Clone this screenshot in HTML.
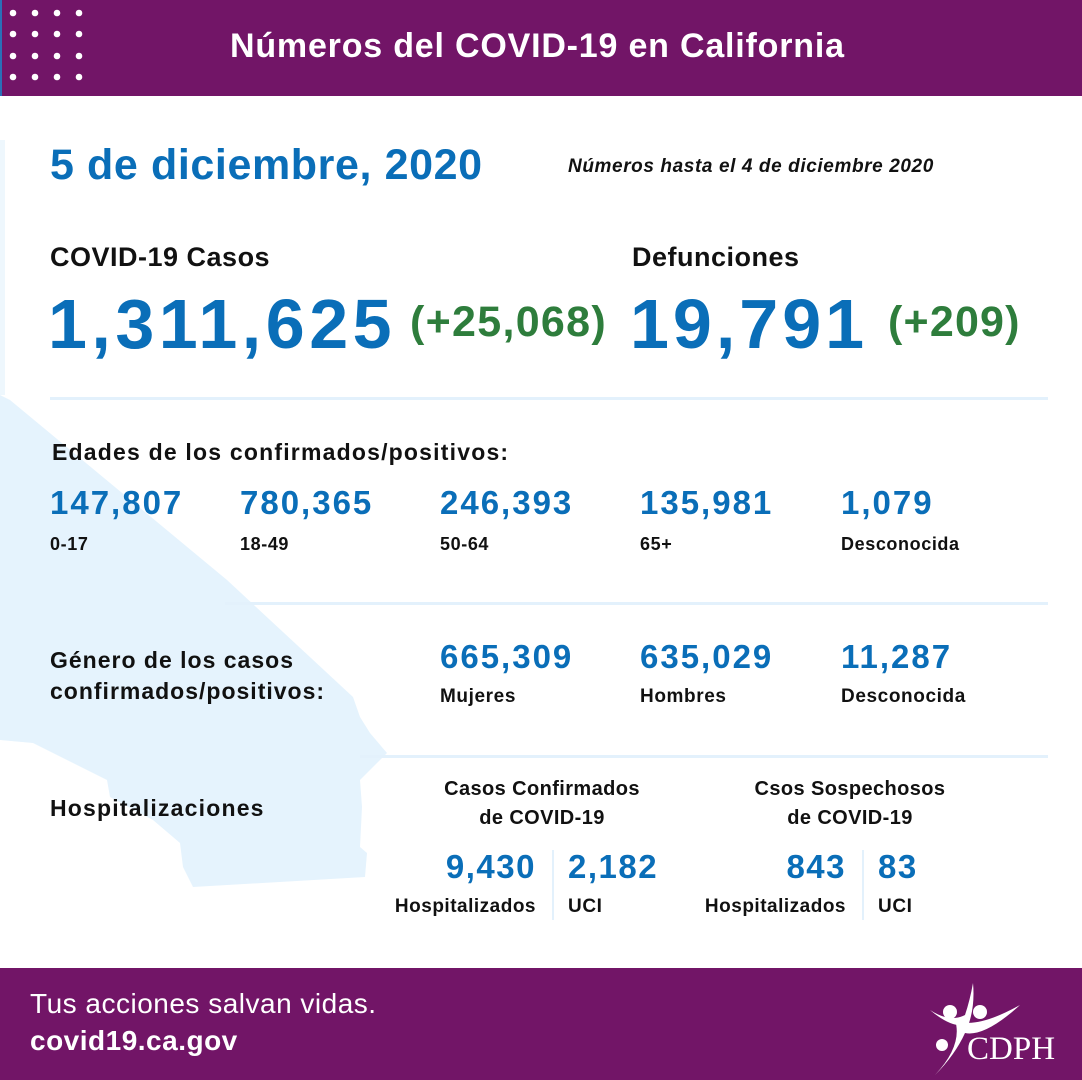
<!DOCTYPE html>
<html><head><meta charset="utf-8"><style>
*{margin:0;padding:0;box-sizing:border-box}
body{width:1082px;height:1080px;position:relative;background:#fff;font-family:"Liberation Sans",sans-serif;overflow:hidden;color:#111}
.a{position:absolute;white-space:nowrap}
.b{color:#0a6eb8;font-weight:bold}
.g{color:#2e7d3c;font-weight:bold}
.k{font-weight:bold;color:#111}
.s{font-size:33px;letter-spacing:2px}
.l{font-size:18px;font-weight:bold;letter-spacing:0.6px}
.hr{position:absolute;left:50px;width:998px;height:3px;background:#e3f1fc}
</style></head><body>
<svg class="a" style="left:0;top:0" width="1082" height="1080">
<polygon fill="#e5f3fd" points="0,395 10,400 227,580 353,697 360,717 370,733 387,753 360,780 362,807 360,847 367,853 365,877 193,887 183,867 180,843 153,820 110,797 107,780 33,743 0,740"/>
<rect x="0" y="140" width="5" height="255" fill="#eef7fd"/>
</svg>
<div class="a" style="left:0;top:0;width:1082px;height:96px;background:#721567"></div>
<div class="a" style="left:0;top:0;width:2px;height:96px;background:#2a6fb8"></div>
<svg class="a" style="left:0;top:0" width="90" height="90" fill="#fff">
<g><circle cx="13" cy="13" r="3.3"/><circle cx="35" cy="13" r="3.3"/><circle cx="57" cy="13" r="3.3"/><circle cx="79" cy="13" r="3.3"/>
<circle cx="13" cy="34" r="3.3"/><circle cx="35" cy="34" r="3.3"/><circle cx="57" cy="34" r="3.3"/><circle cx="79" cy="34" r="3.3"/>
<circle cx="13" cy="56" r="3.3"/><circle cx="35" cy="56" r="3.3"/><circle cx="57" cy="56" r="3.3"/><circle cx="79" cy="56" r="3.3"/>
<circle cx="13" cy="77" r="3.3"/><circle cx="35" cy="77" r="3.3"/><circle cx="57" cy="77" r="3.3"/><circle cx="79" cy="77" r="3.3"/></g></svg>
<div class="a" style="left:230px;top:27px;color:#fff;font-weight:bold;font-size:34px;letter-spacing:0.8px">Números del COVID-19 en California</div>

<div class="a b" style="left:50px;top:141px;font-size:43px;letter-spacing:0.6px">5 de diciembre, 2020</div>
<div class="a k" style="left:568px;top:156px;font-size:19px;font-style:italic;letter-spacing:0.6px">Números hasta el 4 de diciembre 2020</div>

<div class="a k" style="left:50px;top:242px;font-size:27px;letter-spacing:0.5px">COVID-19 Casos</div>
<div class="a b" style="left:48px;top:284px;font-size:70px;letter-spacing:4.5px">1,311,625</div>
<div class="a g" style="left:410px;top:298px;font-size:43px;letter-spacing:1.3px">(+25,068)</div>
<div class="a k" style="left:632px;top:242px;font-size:27px;letter-spacing:0.5px">Defunciones</div>
<div class="a b" style="left:630px;top:284px;font-size:70px;letter-spacing:4px">19,791</div>
<div class="a g" style="left:888px;top:298px;font-size:43px;letter-spacing:1.2px">(+209)</div>

<div class="hr" style="top:397px"></div>
<div class="a k" style="left:52px;top:439px;font-size:23px;letter-spacing:1.2px">Edades de los confirmados/positivos:</div>
<div class="a b s" style="left:50px;top:484px">147,807</div><div class="a l" style="left:50px;top:534px">0-17</div>
<div class="a b s" style="left:240px;top:484px">780,365</div><div class="a l" style="left:240px;top:534px">18-49</div>
<div class="a b s" style="left:440px;top:484px">246,393</div><div class="a l" style="left:440px;top:534px">50-64</div>
<div class="a b s" style="left:640px;top:484px">135,981</div><div class="a l" style="left:640px;top:534px">65+</div>
<div class="a b s" style="left:841px;top:484px">1,079</div><div class="a l" style="left:841px;top:534px">Desconocida</div>

<div class="hr" style="top:602px;left:225px;width:823px"></div>
<div class="a k" style="left:50px;top:645px;font-size:23px;line-height:31px;letter-spacing:1px">Género de los casos<br>confirmados/positivos:</div>
<div class="a b s" style="left:440px;top:638px">665,309</div><div class="a l" style="left:440px;top:686px;font-size:19px">Mujeres</div>
<div class="a b s" style="left:640px;top:638px">635,029</div><div class="a l" style="left:640px;top:686px;font-size:19px">Hombres</div>
<div class="a b s" style="left:841px;top:638px">11,287</div><div class="a l" style="left:841px;top:686px;font-size:19px">Desconocida</div>

<div class="hr" style="top:755px;left:360px;width:688px"></div>
<div class="a k" style="left:50px;top:795px;font-size:23px;letter-spacing:1.2px">Hospitalizaciones</div>
<div class="a k" style="left:392px;top:775px;width:300px;text-align:center;font-size:20px;line-height:29px;letter-spacing:0.4px">Casos Confirmados<br>de COVID-19</div>
<div class="a k" style="left:700px;top:775px;width:300px;text-align:center;font-size:20px;line-height:29px;letter-spacing:0.4px">Csos Sospechosos<br>de COVID-19</div>
<div class="a b s" style="left:370px;top:848px;width:166px;text-align:right;letter-spacing:1.5px">9,430</div>
<div class="a l" style="left:370px;top:896px;width:166px;text-align:right;font-size:19px;letter-spacing:0.5px">Hospitalizados</div>
<div class="a" style="left:552px;top:850px;width:2px;height:70px;background:#e3f1fc"></div>
<div class="a b s" style="left:568px;top:848px;letter-spacing:1.5px">2,182</div><div class="a l" style="left:568px;top:896px;font-size:19px">UCI</div>
<div class="a b s" style="left:680px;top:848px;width:166px;text-align:right;letter-spacing:1.5px">843</div>
<div class="a l" style="left:680px;top:896px;width:166px;text-align:right;font-size:19px;letter-spacing:0.5px">Hospitalizados</div>
<div class="a" style="left:862px;top:850px;width:2px;height:70px;background:#e3f1fc"></div>
<div class="a b s" style="left:878px;top:848px;letter-spacing:1.5px">83</div><div class="a l" style="left:878px;top:896px;font-size:19px">UCI</div>

<div class="a" style="left:0;top:968px;width:1082px;height:112px;background:#721567"></div>
<div class="a" style="left:30px;top:988px;color:#fff;font-size:28px;letter-spacing:0.5px">Tus acciones salvan vidas.</div>
<div class="a" style="left:30px;top:1025px;color:#fff;font-size:28px;font-weight:bold;letter-spacing:0.5px">covid19.ca.gov</div>
<svg class="a" style="left:925px;top:975px" width="130" height="100">
<g fill="#fff"><circle cx="25" cy="37" r="7"/><circle cx="55" cy="37" r="7"/><circle cx="17" cy="70" r="6"/>
<path d="M5,35 Q25,48 40,40 Q45,25 48,8 Q50,30 44,48 Q30,56 5,35Z"/>
<path d="M30,45 Q50,55 95,30 Q60,62 40,58 Q30,80 10,100 Q38,70 30,45Z"/>
<text x="42" y="84" font-family="Liberation Serif,serif" font-size="33">CDPH</text></g></svg>
</body></html>
